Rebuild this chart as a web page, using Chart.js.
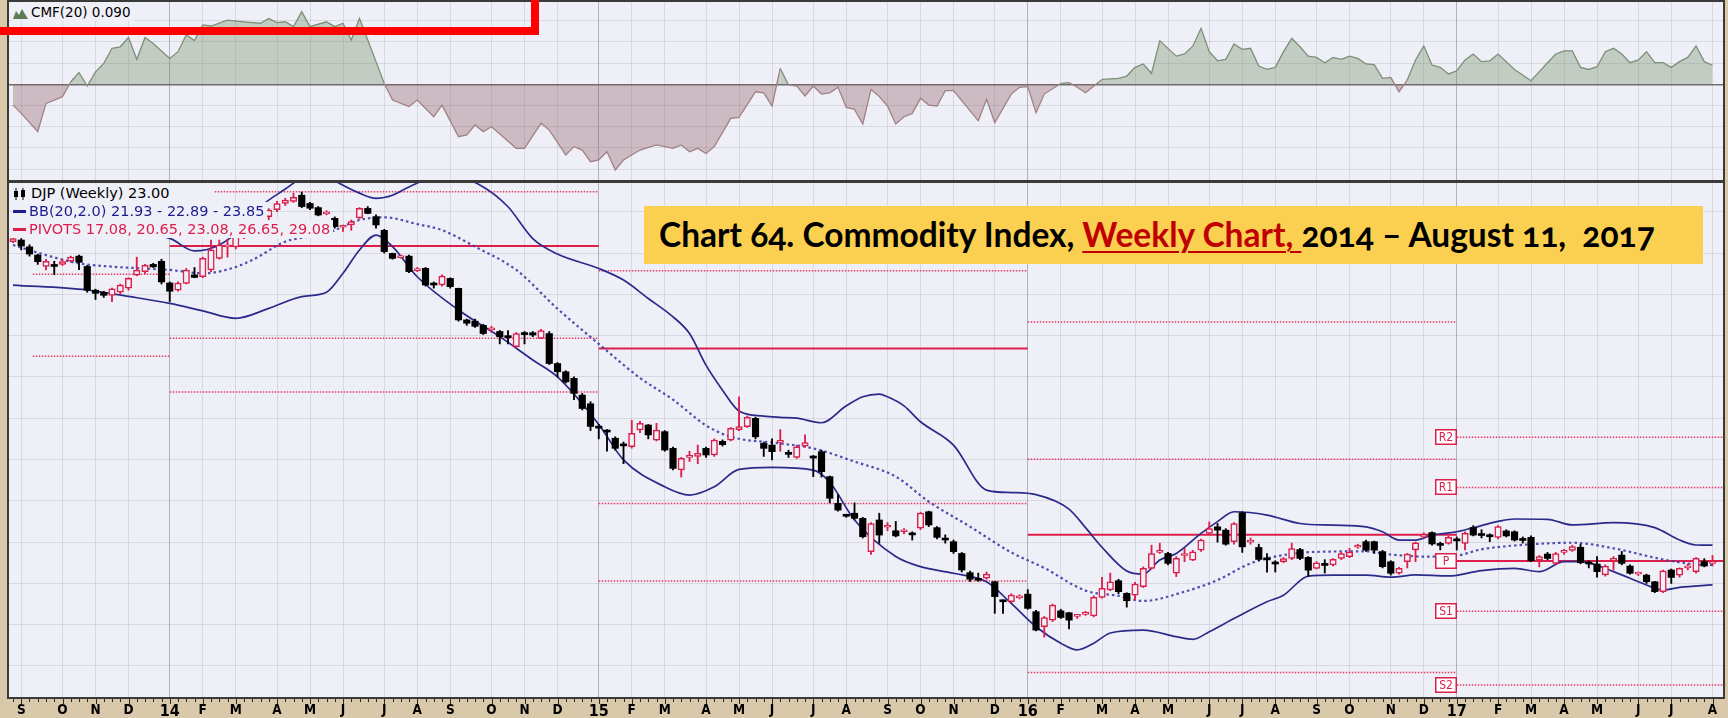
<!DOCTYPE html>
<html>
<head>
<meta charset="utf-8">
<title>DJP weekly</title>
<script src="https://cdn.jsdelivr.net/npm/chart.js@4.4.1/dist/chart.umd.min.js"></script>
<style>
  html, body { margin: 0; padding: 0; }
  body { width: 1728px; height: 718px; background: #d9c8aa; position: relative; overflow: hidden;
         font-family: "DejaVu Sans", Verdana, sans-serif; }
  canvas { position: absolute; left: 0; }
  #cmfChart { top: 0; }
  #priceChart { top: 182px; }
  .leg { position: absolute; left: 12px; height: 18px; line-height: 18px; font-size: 14.5px;
         background: #eff0f7; padding: 0 3px 0 1px; white-space: nowrap; }
  .leg.small { font-size: 13.5px; }
  .leg svg { vertical-align: -2px; margin-right: 3px; }
  .dash { display: inline-block; width: 13px; height: 3px; vertical-align: middle; margin: 0 3px 2px 0; }
  #mark { position: absolute; left: -20px; top: -20px; width: 543px; height: 39px; border: 8px solid #ff0000; }
  #title { position: absolute; left: 644px; top: 206px; width: 1059px; height: 58px; box-sizing: border-box;
           padding-left: 15px; background: #fbcf4f; color: #000; white-space: nowrap;
           font: bold 33.5px Lato, "Open Sans", sans-serif; line-height: 57px; font-variant-numeric: oldstyle-nums; }
  #title u { color: #c00000; text-decoration-thickness: 2px; text-underline-offset: 4px; }
</style>
</head>
<body>
<canvas id="cmfChart" width="1728" height="182"></canvas>
<canvas id="priceChart" width="1728" height="536"></canvas>

<div class="leg small" style="top:3px"><svg width="15" height="11"><polygon points="0,11 3,3 6,7 9,1 12,6 15,11" fill="#5d7a55"/></svg>CMF(20) 0.090</div>
<div class="leg" style="top:184px;min-width:198px"><svg width="15" height="12"><line x1="3" y1="0" x2="3" y2="12" stroke="#000"/><rect x="1" y="3" width="4" height="6" fill="#000"/><line x1="10" y1="0" x2="10" y2="12" stroke="#000"/><rect x="8" y="2" width="4" height="7" fill="#000"/></svg>DJP (Weekly) 23.00</div>
<div class="leg" style="top:202px;color:#1c1c8c"><span class="dash" style="background:#1c1c8c"></span>BB(20,2.0) 21.93 - 22.89 - 23.85</div>
<div class="leg" style="top:220px;color:#dc1e4b"><span class="dash" style="background:#dc1e4b"></span>PIVOTS 17.08, 20.65, 23.08, 26.65, 29.08</div>
<div id="mark"></div>
<div id="title">Chart 64. Commodity Index, <u>Weekly Chart, </u>2014 – August 11,&nbsp; 2017</div>

<script>
// weekly bars, week 0 = 26 Aug 2013, last = 7 Aug 2017
const weekOpen = [38.55,38.63,38.3,37.9,37.35,37.4,37.45,37.6,37.85,37.35,36.2,36.1,35.95,36.1,36.3,36.93,37.1,37.45,37.6,36.55,
  36.2,36.53,36.94,36.85,37.18,37.74,38.3,38.3,38.8,39.2,39.2,39.76,40.1,40.4,40.5,40.8,40.4,40.2,39.9,39.68,
  39.25,39.36,39.7,40.16,39.76,39.1,37.98,37.78,37.85,37.15,37.26,36.53,36.45,36.77,36.29,34.76,34.7,34.5,34.28,34.2,
  33.95,33.47,34.1,34.14,33.87,34.1,32.65,32.25,31.93,31.12,30.7,29.58,29.4,29.03,28.72,28.62,29.43,29.67,28.94,29.35,
  28.54,27.49,28.1,28.15,28.54,28.22,28.88,28.94,29.45,29.59,29.99,28.78,28.7,28.83,28.3,28.1,28.65,28.15,28.38,27.17,
  25.88,25.3,25.4,25.15,23.54,25.07,24.72,24.55,24.5,24.4,24.67,25.47,24.7,24.15,24.02,23.45,22.52,22.2,22.25,22.08,
  21.15,21.11,21.3,21.48,20.63,19.9,20.22,20.67,20.58,20.4,20.5,20.42,21.32,21.68,22.13,21.52,21.43,21.84,22.73,23.5,
  23.45,22.5,23.35,23.13,23.61,24.42,24.74,24.58,24.02,25.42,24.0,23.74,23.18,22.98,23.05,23.21,23.64,23.26,22.73,22.92,
  22.89,23.21,23.3,23.75,24.02,24.02,23.54,23.05,22.49,23.05,23.62,24.25,24.46,23.88,23.94,24.1,23.94,24.71,24.36,24.3,
  24.23,24.54,24.5,24.12,24.23,23.13,23.42,22.97,23.5,23.6,23.75,22.98,22.94,22.41,23.1,23.37,22.84,22.45,22.4,22.08,
  21.6,22.65,22.4,22.75,22.57,23.05,22.97];
const weekHigh = [38.8,38.7,38.4,37.95,37.7,37.6,37.7,37.85,37.9,37.4,36.25,36.15,36.3,36.5,36.8,37.8,37.45,37.5,37.7,36.6,
  36.6,37.25,37.3,37.8,38.63,38.63,38.65,39.0,39.4,39.4,39.9,40.15,40.5,40.65,40.9,40.95,40.45,40.25,40.05,39.75,
  39.35,39.6,40.2,40.25,39.85,39.15,38.0,37.9,37.9,37.3,37.3,36.6,36.95,36.8,36.3,34.8,34.8,34.55,34.45,34.25,
  34.25,34.15,34.2,34.2,34.3,34.2,32.7,32.3,32.0,31.2,30.8,29.7,29.45,29.1,28.85,29.9,29.85,29.7,29.75,29.4,
  28.6,28.1,28.4,28.7,28.6,29.0,28.95,29.55,31.04,30.1,30.05,28.85,29.0,29.45,28.45,28.7,29.2,28.2,28.45,27.2,
  26.3,25.35,25.9,25.2,24.95,25.4,24.95,25.0,24.65,24.5,25.45,25.5,24.75,24.35,24.1,23.5,22.6,22.5,22.55,22.1,
  21.2,21.5,21.45,21.7,20.7,20.4,21.0,20.75,20.6,20.5,20.65,21.4,22.3,22.5,22.2,21.55,22.05,22.8,23.85,23.95,
  23.5,23.3,23.7,23.6,24.15,24.98,24.9,24.65,24.95,25.47,24.2,23.9,23.45,23.1,23.25,23.95,23.7,23.3,23.05,23.15,
  23.2,23.5,23.7,23.9,24.1,24.05,23.6,23.1,22.78,23.45,24.0,24.45,24.5,24.0,24.3,24.25,24.5,24.8,24.6,24.4,
  24.8,24.6,24.55,24.25,24.3,23.35,23.5,23.5,23.65,23.85,23.9,23.1,23.3,22.9,23.3,23.55,22.9,22.55,22.45,22.1,
  22.65,22.7,22.75,22.95,23.25,23.2,23.35];
const weekLow = [38.5,38.15,37.85,37.45,37.18,36.95,37.4,37.55,37.2,36.1,35.75,35.85,35.65,36.0,36.2,36.9,37.0,37.3,36.5,35.65,
  36.15,36.5,36.8,36.8,37.1,37.7,37.8,38.2,38.7,38.9,39.1,39.6,40.0,40.3,40.45,40.2,40.1,39.8,39.85,39.2,
  39.05,39.1,39.65,39.9,39.2,38.0,37.7,37.75,37.05,37.1,36.4,36.3,36.4,36.3,34.7,34.5,34.4,34.05,34.15,33.6,
  33.6,33.4,33.6,33.95,33.85,32.6,32.0,31.7,30.9,30.4,29.4,29.0,28.4,28.45,27.8,28.55,29.3,29.0,28.9,28.4,
  27.5,27.15,27.9,27.8,28.1,28.15,28.65,28.9,29.4,29.55,29.0,28.15,27.98,28.4,28.1,28.05,28.6,27.17,27.15,25.9,
  25.5,25.2,25.1,24.2,23.4,23.95,24.55,24.25,24.4,24.1,24.6,24.75,24.15,23.95,23.45,22.55,22.1,22.1,22.2,20.55,
  20.55,21.05,21.25,20.75,19.7,19.4,20.15,20.3,19.8,20.3,20.45,20.38,21.28,21.65,21.5,20.85,21.2,21.8,22.7,23.45,
  22.9,22.33,23.05,23.1,23.55,24.4,24.0,23.85,23.9,23.5,23.9,23.1,22.55,22.55,23.0,23.15,23.15,22.35,22.7,22.5,
  22.85,23.15,23.25,23.7,23.55,23.45,22.75,22.4,22.45,22.75,23.05,24.2,23.85,23.62,23.9,23.62,23.62,24.3,24.2,24.02,
  24.15,24.25,24.05,23.95,23.05,22.8,23.15,22.9,23.4,23.55,22.95,22.75,22.3,22.35,22.65,22.9,22.45,22.38,22.0,21.55,
  21.55,22.0,22.3,22.65,22.5,22.8,22.85];
const weekClose = [38.7,38.34,37.95,37.58,37.6,37.35,37.58,37.8,37.55,36.2,36.05,35.95,36.27,36.45,36.77,37.18,37.4,37.33,36.6,36.15,
  36.55,37.18,36.82,37.74,38.15,38.39,38.35,38.8,39.2,39.0,39.75,40.08,40.4,40.57,40.7,40.25,40.17,39.84,39.98,39.28,
  39.3,39.52,40.16,39.92,39.36,38.07,37.74,37.85,37.1,37.22,36.45,36.45,36.88,36.37,34.76,34.6,34.45,34.1,34.32,33.95,
  33.9,34.1,34.05,34.03,34.24,32.65,32.25,31.76,31.2,30.47,29.6,29.52,29.33,28.54,28.66,29.27,29.75,29.19,29.43,28.46,
  27.57,28.06,28.15,28.3,28.22,28.94,28.72,29.51,29.6,30.04,29.1,28.54,28.38,28.88,28.25,28.62,28.82,28.07,27.41,26.12,
  25.55,25.25,25.15,24.26,24.9,24.34,24.77,24.3,24.58,24.35,25.4,24.83,24.23,24.1,23.54,22.65,22.2,22.15,22.45,21.36,
  21.11,21.43,21.4,20.79,19.74,20.35,20.95,20.35,20.22,20.45,20.58,21.32,21.76,22.08,21.6,21.16,21.97,22.73,23.45,23.6,
  22.97,23.21,23.4,23.53,24.1,24.66,24.58,23.9,24.9,23.77,24.05,23.16,23.14,22.94,23.2,23.69,23.21,22.64,23.0,22.87,
  23.16,23.45,23.52,23.8,23.61,23.61,22.81,22.49,22.73,23.42,23.97,24.3,23.91,23.84,24.23,24.06,24.42,24.34,24.32,24.26,
  24.75,24.3,24.1,24.08,23.1,23.3,23.21,23.45,23.55,23.78,23.0,22.94,22.57,22.84,23.22,22.97,22.49,22.5,22.08,21.6,
  22.61,22.29,22.73,22.8,23.21,22.84,23.0];

// Bollinger bands (20, 2.0) as [week, value]
const bbUpper = [[0,39.6],[5,39.4],[10,39.1],[15,38.9],[19,38.71],[22,38.1],[25,38.39],[28,39.3],[30,40.24],[33,41.1],
  [35,41.65],[37,42.0],[39,41.5],[42,40.9],[44,40.65],[46,40.8],[48,41.2],[50,41.55],[53,41.8],[57,41.2],[60,40.24],
  [63,38.7],[66,37.95],[71,37.25],[74,36.69],[77,35.8],[80,34.91],[82,34.1],[84,32.57],[86,31.36],[88,30.35],[91,30.1],
  [93,30.04],[95,30.0],[98,29.78],[101,30.6],[103,31.04],[105,31.17],[106,31.04],[108,30.6],[110,29.83],[114,28.7],
  [118,26.52],[121,26.4],[124,26.3],[128,25.6],[130,24.7],[132,23.75],[135,22.6],[137,22.45],[139,23.13],[141,23.45],
  [144,24.42],[146,24.99],[148,25.47],[152,25.31],[156,24.9],[160,24.82],[164,24.74],[166,24.5],[168,24.1],[170,24.1],
  [172,24.34],[175,24.5],[178,24.8],[180,25.0],[182,25.12],[186,25.1],[189,24.83],[194,24.94],[199,24.7],[202,24.1],
  [204,23.86],[206,23.85]];
const bbMiddle = [[0,38.39],[4,37.9],[8,37.5],[12,37.34],[19,37.18],[23,37.02],[26,37.2],[29,37.66],[33,38.55],[38,38.95],
  [42,39.6],[45,39.73],[49,39.4],[52,39.11],[56,38.31],[61,37.18],[66,35.3],[71,33.6],[76,31.95],[80,30.9],[84,29.65],
  [87,29.1],[93,28.78],[97,28.54],[102,27.9],[107,27.17],[111,25.96],[116,24.75],[121,23.5],[125,22.75],[130,21.65],
  [134,21.4],[137,21.15],[142,21.6],[146,22.16],[150,22.97],[154,23.37],[158,23.53],[164,23.55],[167,23.4],[171,23.3],
  [175,23.35],[178,23.65],[181,23.8],[185,23.92],[189,23.97],[194,23.7],[200,23.16],[204,22.92],[206,22.89]];
const bbLower = [[0,36.45],[9,36.21],[14,35.9],[19,35.56],[23,35.2],[27,34.84],[31,35.32],[35,35.89],[38,36.1],[40,37.02],
  [42,38.15],[44,38.87],[46,38.31],[49,36.85],[54,35.24],[59,33.95],[63,32.82],[66,32.0],[71,29.7],[74,27.98],[79,26.68],
  [82,26.28],[85,26.68],[88,27.52],[92,27.62],[97,27.49],[99,26.9],[102,25.07],[107,23.3],[110,22.81],[114,22.49],
  [118,22.08],[121,21.03],[124,19.9],[127,19.1],[129,18.78],[131,19.1],[133,19.6],[137,19.74],[141,19.42],[143,19.29],
  [145,19.66],[148,20.3],[152,21.11],[154,21.43],[157,22.35],[160,22.4],[164,22.4],[167,22.3],[170,22.41],[174,22.36],
  [178,22.62],[182,22.73],[185,22.57],[188,23.05],[190,23.05],[194,22.57],[198,21.92],[200,21.68],[202,21.81],[206,21.93]];

// Chaikin money flow (20) as [week, value]
const cmfPoints = [[0,-0.098],[1,-0.137],[3,-0.223],[4,-0.09],[6,-0.058],[7,0.012],[8,0.055],[9,-0.008],[10,0.059],[11,0.099],
  [12,0.17],[13,0.177],[14,0.221],[15,0.118],[16,0.221],[17,0.193],[19,0.122],[20,0.154],[21,0.233],[22,0.206],[23,0.28],
  [24,0.275],[26,0.303],[28,0.295],[30,0.288],[31,0.311],[32,0.291],[33,0.295],[34,0.272],[35,0.343],[36,0.272],[38,0.295],
  [39,0.272],[40,0.288],[41,0.209],[42,0.311],[43,0.209],[44,0.107],[45,0.004],[46,-0.074],[48,-0.105],[49,-0.074],
  [51,-0.153],[52,-0.098],[54,-0.247],[55,-0.239],[56,-0.192],[57,-0.223],[58,-0.2],[61,-0.302],[62,-0.302],[64,-0.184],
  [65,-0.216],[67,-0.333],[68,-0.294],[69,-0.31],[70,-0.365],[71,-0.357],[72,-0.318],[73,-0.404],[74,-0.357],[76,-0.31],
  [78,-0.286],[80,-0.302],[81,-0.286],[82,-0.318],[83,-0.302],[84,-0.326],[85,-0.294],[87,-0.161],[88,-0.156],[90,-0.035],
  [91,-0.04],[92,-0.102],[93,0.075],[94,-0.003],[95,-0.008],[96,-0.055],[97,-0.008],[98,-0.046],[99,-0.04],[100,-0.014],
  [101,-0.109],[102,-0.118],[103,-0.187],[104,-0.024],[105,-0.058],[106,-0.102],[107,-0.187],[108,-0.153],[109,-0.137],
  [110,-0.066],[111,-0.098],[112,-0.102],[113,-0.03],[114,-0.03],[117,-0.172],[118,-0.071],[119,-0.181],[121,-0.046],
  [122,-0.014],[123,-0.011],[124,-0.134],[125,-0.046],[127,0.004],[128,0.008],[129,-0.014],[130,-0.04],[132,0.023],
  [134,0.028],[135,0.039],[136,0.08],[137,0.096],[138,0.052],[139,0.206],[141,0.133],[142,0.143],[143,0.18],[144,0.264],
  [145,0.154],[146,0.111],[147,0.118],[148,0.19],[149,0.165],[150,0.17],[151,0.086],[152,0.071],[153,0.08],[154,0.154],
  [155,0.217],[156,0.177],[157,0.133],[158,0.127],[159,0.102],[160,0.127],[161,0.118],[162,0.133],[163,0.122],[164,0.096],
  [165,0.093],[166,0.028],[167,0.033],[168,-0.035],[169,0.02],[170,0.115],[171,0.181],[172,0.091],[173,0.08],[174,0.049],
  [175,0.064],[176,0.115],[177,0.143],[178,0.107],[179,0.111],[180,0.143],[182,0.07],[184,0.017],[185,0.06],[186,0.102],
  [187,0.143],[188,0.158],[189,0.158],[190,0.08],[191,0.07],[192,0.083],[193,0.154],[194,0.17],[195,0.143],[196,0.102],
  [197,0.115],[198,0.154],[199,0.102],[200,0.102],[201,0.08],[202,0.107],[203,0.127],[204,0.181],[205,0.107],[206,0.09]];

// yearly pivot periods (week ranges) and levels; null = off the chart
const pivotStart = [2.4, 19, 71, 123, 175];
const pivotEnd   = [19, 71, 123, 175, 207.39];
const pivotR2 = [null, null, null, 34.66, 29.08];
const pivotR1 = [null, 40.97, 37.14, 28.01, 26.65];
const pivotP  = [null, 38.34, 33.38, 24.36, 23.08];
const pivotS1 = [36.97, 33.87, 25.87, 17.69, 20.65];
const pivotS2 = [33.0, 31.27, 22.12, null, 17.08];

// axis ticks: first weekly bar of each month
const monthWeeks = [1,6,10,14,19,23,27,32,36,40,45,49,53,58,62,66,71,75,79,84,88,92,97,101,106,110,114,119,
  123,127,132,136,140,145,149,153,158,162,167,171,175,180,184,188,192,197,201,206];
const monthLabels = ['S','O','N','D','14','F','M','A','M','J','J','A','S','O','N','D','15','F','M','A','M','J','J','A',
  'S','O','N','D','16','F','M','A','M','J','J','A','S','O','N','D','17','F','M','A','M','J','J','A'];
const priceTicks = [18,20,22,24,26,28,30,32,34,36,38,40];
const cmfTicks = [-0.4,-0.3,-0.2,-0.1,0,0.1,0.2,0.3];

const BG = '#eff0f7';
const UP = '#dc1e4b';
const NAVY = '#2a2a8a';
const GRID = 'rgba(120,120,135,0.2)';
const AXIS_FONT = "'DejaVu Sans Condensed', 'Liberation Sans Narrow', 'DejaVu Sans', sans-serif";
const X_MIN = -0.606, X_MAX = 207.39;

const isYear = i => (monthLabels[i] || '').length === 2;

function weekAxis(showLabels) {
  return {
    type: 'linear', min: X_MIN, max: X_MAX, offset: false,
    afterBuildTicks: s => { s.ticks = monthWeeks.map(v => ({ value: v })); },
    afterFit: s => { s.height = showLabels ? 20 : 0; },
    border: { display: false },
    grid: { offset: false, drawTicks: false,
            color: c => isYear(c.index) ? 'rgba(105,105,110,0.45)' : GRID },
    ticks: {
      display: showLabels, autoSkip: false, maxRotation: 0, padding: 4, color: '#000',
      callback: (v, i) => monthLabels[i],
      font: c => isYear(c.index)
        ? { family: AXIS_FONT, size: 16, weight: 'bold' }
        : { family: AXIS_FONT, size: 13.5, weight: 'bold' }
    }
  };
}

const panelBg = {
  id: 'panelBg',
  beforeDraw(chart) {
    const { ctx, chartArea: a } = chart;
    ctx.save();
    ctx.fillStyle = BG;
    ctx.fillRect(a.left, a.top, a.width, a.height);
    ctx.restore();
  }
};

const panelFrame = {
  id: 'panelFrame',
  afterDraw(chart) {
    const { ctx, chartArea: a } = chart;
    ctx.save();
    ctx.strokeStyle = '#3a3a3a';
    ctx.lineWidth = 2;
    ctx.strokeRect(a.left, a.top, a.width, a.height);
    ctx.restore();
  }
};

// small ruler marks under the price panel, one per week
const weekRuler = {
  id: 'weekRuler',
  afterDraw(chart) {
    const { ctx, chartArea: a, scales: { x } } = chart;
    ctx.save();
    ctx.strokeStyle = '#2a2a2a';
    ctx.lineWidth = 1;
    ctx.beginPath();
    for (let i = 0; i < weekClose.length; i++) {
      const px = Math.round(x.getPixelForValue(i)) + 0.5;
      const len = monthWeeks.includes(i) ? 5 : 3;
      ctx.moveTo(px, a.bottom + 1);
      ctx.lineTo(px, a.bottom + 1 + len);
    }
    ctx.stroke();
    ctx.restore();
  }
};

const pivotLevels = [
  { name: 'R2', values: pivotR2 }, { name: 'R1', values: pivotR1 }, { name: 'P', values: pivotP },
  { name: 'S1', values: pivotS1 }, { name: 'S2', values: pivotS2 }
];

// tags for the current year's pivot levels
const pivotTags = {
  id: 'pivotTags',
  afterDatasetsDraw(chart) {
    const { ctx, scales: { x, y } } = chart;
    const last = pivotStart.length - 1;
    const right = Math.round(x.getPixelForValue(pivotStart[last]));
    ctx.save();
    ctx.font = '12px ' + AXIS_FONT;
    ctx.textAlign = 'center';
    ctx.textBaseline = 'middle';
    pivotLevels.forEach(lv => {
      const v = lv.values[last];
      if (v == null) return;
      const py = Math.round(y.getPixelForValue(v));
      ctx.fillStyle = '#fff';
      ctx.fillRect(right - 22, py - 8, 22, 16);
      ctx.strokeStyle = UP;
      ctx.lineWidth = 1.5;
      ctx.strokeRect(right - 21.25, py - 7.25, 20.5, 14.5);
      ctx.fillStyle = UP;
      ctx.fillText(lv.name, right - 11, py + 1);
    });
    ctx.restore();
  }
};

const isUp = weekClose.map((c, i) => c >= weekOpen[i]);

const band = (pts, dotted) => ({
  type: 'line',
  data: pts.map(([w, v]) => ({ x: w, y: v })),
  borderColor: dotted ? 'rgba(60,60,170,0.9)' : NAVY,
  borderWidth: dotted ? 2.2 : 1.7,
  borderDash: dotted ? [2.5, 3] : [],
  pointRadius: 0,
  cubicInterpolationMode: 'monotone',
  order: 3
});

const pivotSets = [];
pivotLevels.forEach(lv => lv.values.forEach((v, k) => {
  if (v == null) return;
  const solid = lv.name === 'P';
  pivotSets.push({
    type: 'line',
    data: [{ x: pivotStart[k], y: v }, { x: pivotEnd[k], y: v }],
    borderColor: solid ? UP : 'rgba(226,40,84,0.9)',
    borderWidth: solid ? 2 : 1.5,
    borderDash: solid ? [] : [1.5, 1.5],
    pointRadius: 0,
    order: 4
  });
}));

const common = {
  responsive: false,
  animation: false,
  events: [],
  plugins: { legend: { display: false }, tooltip: { enabled: false } }
};

new Chart(document.getElementById('cmfChart'), {
  type: 'line',
  data: {
    datasets: [{
      data: cmfPoints.map(([w, v]) => ({ x: w, y: v })),
      borderColor: '#7d8f78',
      borderWidth: 1.3,
      pointRadius: 0,
      tension: 0,
      fill: { target: 'origin', above: 'rgba(115,140,100,0.36)', below: 'rgba(140,95,100,0.36)' },
      segment: { borderColor: c => (c.p0.parsed.y + c.p1.parsed.y) >= 0 ? '#7d8f78' : '#a08284' }
    }]
  },
  options: {
    ...common,
    layout: { padding: { left: 8, right: 4, top: 1, bottom: 1 } },
    scales: {
      x: weekAxis(false),
      y: {
        min: -0.456, max: 0.393,
        afterBuildTicks: s => { s.ticks = cmfTicks.map(v => ({ value: v })); },
        afterFit: s => { s.width = 0; },
        border: { display: false },
        ticks: { display: false },
        grid: { drawTicks: false,
                color: c => c.tick && c.tick.value === 0 ? '#6e6e6e' : GRID,
                lineWidth: c => c.tick && c.tick.value === 0 ? 1.5 : 1 }
      }
    }
  },
  plugins: [panelBg, panelFrame]
});

new Chart(document.getElementById('priceChart'), {
  type: 'line',
  data: {
    datasets: [
      {
        type: 'bar',
        data: weekClose.map((c, i) => ({ x: i, y: [weekOpen[i], c] })),
        backgroundColor: isUp.map(u => u ? BG : '#000'),
        borderColor: isUp.map(u => u ? UP : '#000'),
        borderWidth: isUp.map(u => u ? 1.5 : 0),
        borderSkipped: false,
        grouped: false,
        barPercentage: 1, categoryPercentage: 1,
        maxBarThickness: 6.5,
        minBarLength: 2,
        order: 0
      },
      {
        type: 'bar',
        data: weekHigh.map((h, i) => ({ x: i, y: [weekLow[i], h] })),
        backgroundColor: isUp.map(u => u ? UP : '#000'),
        grouped: false,
        barPercentage: 1, categoryPercentage: 1,
        maxBarThickness: 1.2,
        order: 1
      },
      band(bbUpper, false),
      band(bbLower, false),
      band(bbMiddle, true),
      ...pivotSets
    ]
  },
  options: {
    ...common,
    layout: { padding: { left: 8, right: 4, top: 0, bottom: 0 } },
    scales: {
      x: weekAxis(true),
      y: {
        min: 16.45, max: 41.44,
        afterBuildTicks: s => { s.ticks = priceTicks.map(v => ({ value: v })); },
        afterFit: s => { s.width = 0; },
        border: { display: false },
        ticks: { display: false },
        grid: { drawTicks: false, color: GRID }
      }
    }
  },
  plugins: [panelBg, pivotTags, panelFrame, weekRuler]
});
</script>
</body>
</html>
